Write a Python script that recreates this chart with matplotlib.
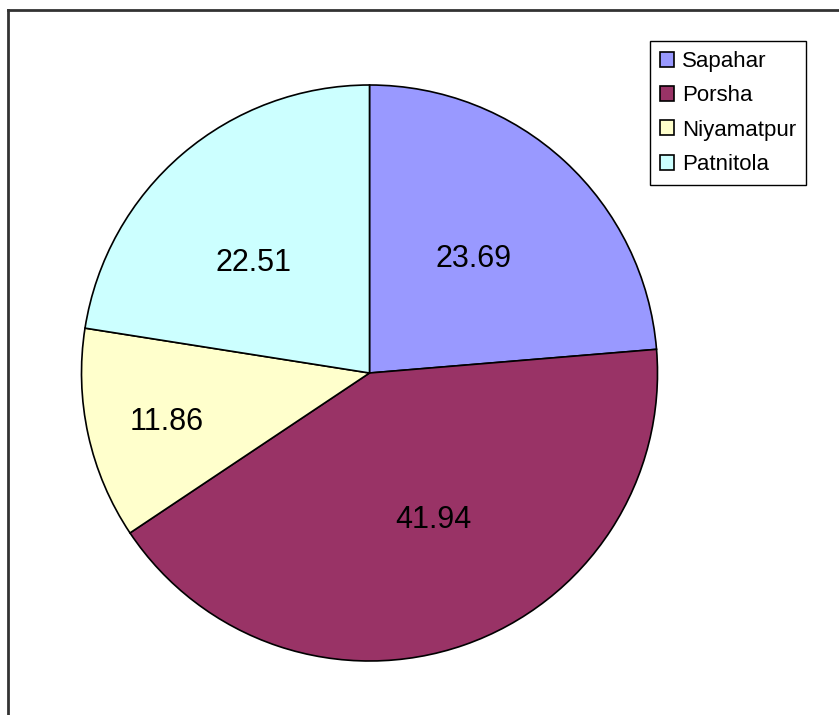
import matplotlib
matplotlib.use("Agg")
import numpy as np
import matplotlib.pyplot as plt
from matplotlib.lines import Line2D

categories = ["Sapahar", "Porsha", "Niyamatpur", "Patnitola"]
values = [23.69, 41.94, 11.86, 22.51]
colors = ["#9999FF", "#993366", "#FFFFCC", "#CCFFFF"]
# label placement (fraction of radius, angular shift in degrees)
label_r = [0.542, 0.55, 0.722, 0.559]
label_dtheta = [0.8, 4.4, 0.8, 5.4]

plt.rcParams['font.family'] = ['Liberation Sans', 'DejaVu Sans']

W, H = 839, 715
fig = plt.figure(figsize=(W / 100, H / 100), dpi=100)
ax = fig.add_axes([0, 0, 1, 1])

cx, cy, R = 369.5, H - 373, 288
wedges, texts, autotexts = ax.pie(
    values, colors=colors, startangle=90, counterclock=False,
    center=(cx, cy), radius=R,
    autopct=lambda p: f"{p:.2f}", pctdistance=0.55,
    wedgeprops=dict(edgecolor="black", linewidth=1.2),
    textprops=dict(fontsize=22, color="black"),
)
for w, t, fr, dt in zip(wedges, autotexts, label_r, label_dtheta):
    mid = np.deg2rad((w.theta1 + w.theta2) / 2 + dt)
    t.set_position((cx + fr * R * np.cos(mid), cy + 1.5 + fr * R * np.sin(mid)))
    t.set_va("center_baseline")

ax.set_xlim(0, W)
ax.set_ylim(0, H)
ax.set_aspect("equal")
ax.axis("off")

# outer chart frame
fig.add_artist(Line2D([8 / W, 8 / W], [0, 1 - 10 / H], transform=fig.transFigure,
                      color="#333333", linewidth=2))
fig.add_artist(Line2D([8 / W, 1.0], [1 - 10 / H, 1 - 10 / H], transform=fig.transFigure,
                      color="#333333", linewidth=2))

leg = fig.legend(wedges, categories, loc="upper left",
                 bbox_to_anchor=(650 / W, 1 - 41 / H), bbox_transform=fig.transFigure,
                 fancybox=False, edgecolor="black", framealpha=1,
                 fontsize=16, handlelength=0.65, handleheight=0.65,
                 handletextpad=0.35, labelspacing=0.6, borderpad=0.45,
                 borderaxespad=0)
leg.get_frame().set_linewidth(1.0)

fig.savefig("out.png", dpi=100)
